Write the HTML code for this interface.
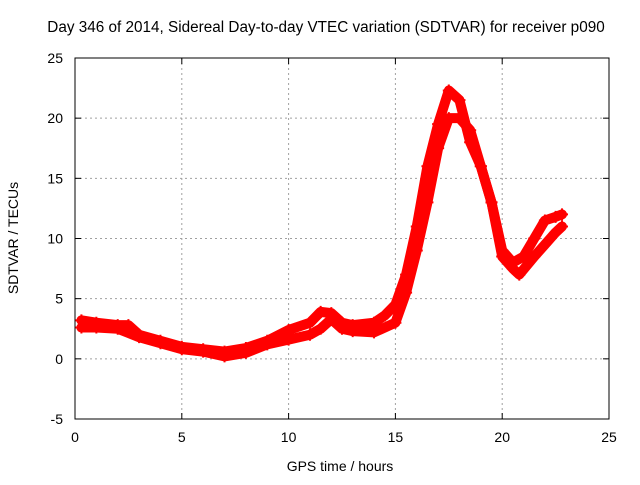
<!DOCTYPE html>
<html><head><meta charset="utf-8"><style>
body{margin:0;background:#fff}
text{font-family:"Liberation Sans",sans-serif;font-size:14px;fill:#000}
</style></head><body>
<svg id="c" width="640" height="480" xmlns="http://www.w3.org/2000/svg"></svg>
<script>
const xTicks=[0,5,10,15,20,25];
const yTicks=[-5,0,5,10,15,20,25];
const traceAHours=[0.3,1,2,2.5,3,4,5,6,7,8,9,10,11,11.5,12,12.5,13,14,14.5,15,15.5,16,16.5,17,17.5,18,18.5,19,19.5,20,20.5,21,21.5,22,22.5,22.8];
const traceAValues=[3.2,3.0,2.8,2.8,2.0,1.5,1.0,0.8,0.6,0.9,1.5,2.4,3.0,3.9,3.8,3.0,2.8,3.0,3.6,4.5,7,11,16,19.5,22.3,21.5,18,16,13,9,8,8.5,10,11.5,11.8,12];
const traceBHours=[0.3,1,2,3,4,5,6,7,8,9,10,11,11.5,12,12.5,13,14,15,15.5,16,16.5,17,17.5,18,18.5,19,19.5,20,20.5,20.8,21.5,22,22.5,22.8];
const traceBValues=[2.6,2.6,2.5,1.8,1.3,0.8,0.6,0.2,0.5,1.2,1.6,2.0,2.5,3.3,2.5,2.3,2.2,3.0,5.5,9,13,17.5,20.0,20.0,19,16,13,8.5,7.5,7,8.5,9.5,10.5,11];
const X0=75,X1=609,Y0=419,Y1=58;
const sx=v=>X0+(v-0)/(25-0)*(X1-X0);
const sy=v=>Y0-(v+5)/30*(Y0-Y1);
const svg=document.getElementById('c');const NS='http://www.w3.org/2000/svg';
function mk(t,a,p){const e=document.createElementNS(NS,t);for(const k in a)e.setAttribute(k,a[k]);(p||svg).appendChild(e);return e;}
xTicks.forEach(v=>{const x=sx(v);
 if(v>0&&v<25){const g=mk('line',{x1:x,x2:x,y1:Y1,y2:Y0,stroke:'#a0a0a0','stroke-dasharray':'2,3'});}
 mk('line',{x1:x,x2:x,y1:Y0,y2:Y0-6,stroke:'#000'});mk('line',{x1:x,x2:x,y1:Y1,y2:Y1+6,stroke:'#000'});
 const t=mk('text',{x:x,y:Y0+23,'text-anchor':'middle'});t.textContent=v;});
yTicks.forEach(v=>{const y=sy(v);
 if(v>-5&&v<25){const g=mk('line',{x1:X0,x2:X1,y1:y,y2:y,stroke:'#a0a0a0','stroke-dasharray':'2,3'});}
 mk('line',{x1:X0,x2:X0+6,y1:y,y2:y,stroke:'#000'});mk('line',{x1:X1,x2:X1-6,y1:y,y2:y,stroke:'#000'});
 const t=mk('text',{x:X0-12,y:y+5,'text-anchor':'end'});t.textContent=v;});
const box=mk('rect',{x:X0,y:Y1,width:X1-X0,height:Y0-Y1,fill:'none',stroke:'#000'});

function trace(hs,vs,name){
 const pts=hs.map((h,i)=>sx(h)+','+sy(vs[i])).join(' ');
 const p=mk('polyline',{points:pts,fill:'none',stroke:'#ff0000','stroke-width':10,'stroke-linejoin':'round','stroke-linecap':'round'});
 
 hs.forEach((h,i)=>{const x=sx(h),y=sy(vs[i]);
  mk('path',{d:`M${x-6},${y}H${x+6}M${x},${y-6}V${y+6}`,stroke:'#ff0000','stroke-width':2});});
}
trace(traceAHours,traceAValues,'sdtvar-trace-upper');
trace(traceBHours,traceBValues,'sdtvar-trace-lower');
let t=mk('text',{x:326,y:32,'text-anchor':'middle',style:'font-size:15.3px'});t.textContent='Day 346 of 2014, Sidereal Day-to-day VTEC variation (SDTVAR) for receiver p090';

t=mk('text',{x:340,y:471,'text-anchor':'middle'});t.textContent='GPS time / hours';

t=mk('text',{x:18,y:238,'text-anchor':'middle',transform:'rotate(-90 18 238)'});t.textContent='SDTVAR / TECUs';

</script>
</body></html>
